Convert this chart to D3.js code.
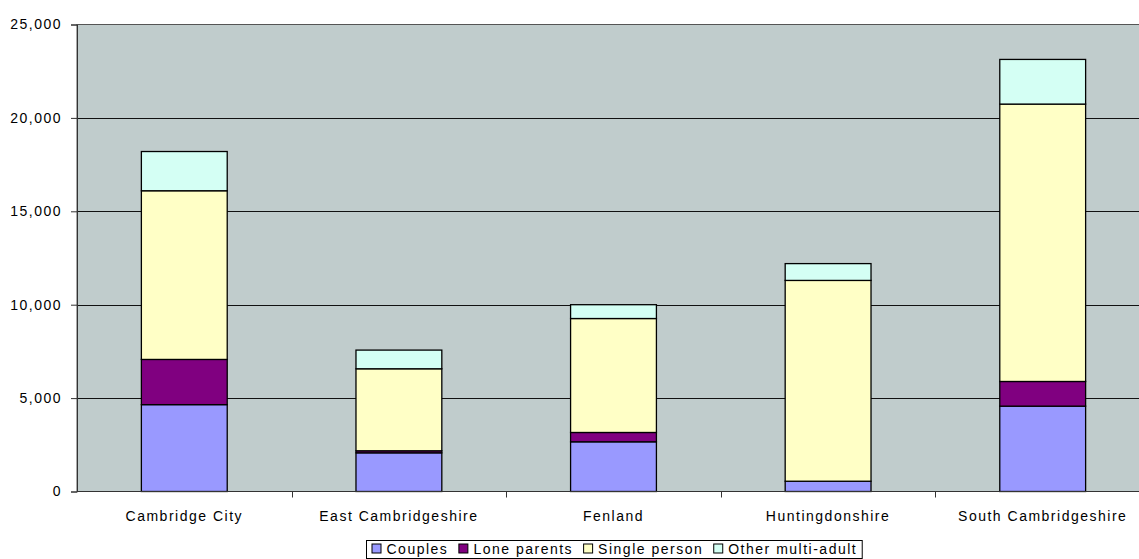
<!DOCTYPE html>
<html>
<head>
<meta charset="utf-8">
<script src="https://cdn.jsdelivr.net/npm/d3@7"></script>
<style>
  html, body { margin: 0; padding: 0; background: #fff; }
  svg { display: block; overflow: hidden; }
  text { font-family: "Liberation Sans", Arial, sans-serif; font-size: 14px; fill: #000; letter-spacing: 1.5px; }
</style>
</head>
<body>
<svg id="chart" width="1139" height="559"></svg>
<script>
// Households by type, per district
const categories = ["Cambridge City", "East Cambridgeshire", "Fenland", "Huntingdonshire", "South Cambridgeshire"];
const couples = [4650, 2070, 2660, 550, 4570];
const loneParents = [2420, 110, 500, 0, 1320];
const singlePerson = [9030, 4390, 6100, 10750, 14850];
const otherMultiAdult = [2100, 1000, 740, 900, 2390];
const seriesNames = ["Couples", "Lone parents", "Single person", "Other multi-adult"];
const yTicks = [0, 5000, 10000, 15000, 20000, 25000];

const colors = ["#9999FF", "#800080", "#FFFFC6", "#D4FFF4"];

const svg = d3.select("#chart");
const plot = { left: 77, right: 1150, top: 24.5, bottom: 491.5 };

const rows = categories.map((c, i) => ({
  cat: c,
  "Couples": couples[i],
  "Lone parents": loneParents[i],
  "Single person": singlePerson[i],
  "Other multi-adult": otherMultiAdult[i]
}));
const stacked = d3.stack().keys(seriesNames)(rows);

const x = d3.scaleBand().domain(categories).range([plot.left, plot.right]).paddingInner(0.6).paddingOuter(0.3);
const xOuter = d3.scaleBand().domain(categories).range([plot.left, plot.right]);
const y = d3.scaleLinear().domain([0, 25000]).range([plot.bottom, plot.top]);

// plot background
svg.append("rect")
  .attr("x", plot.left).attr("y", plot.top)
  .attr("width", plot.right - plot.left).attr("height", plot.bottom - plot.top)
  .attr("fill", "#C0CCCC").attr("stroke", "#555").attr("stroke-width", 1);

// horizontal gridlines
svg.append("g").selectAll("line")
  .data(yTicks.filter(t => t > 0 && t < 25000))
  .join("line")
  .attr("x1", plot.left).attr("x2", plot.right)
  .attr("y1", d => Math.round(y(d)) + 0.5).attr("y2", d => Math.round(y(d)) + 0.5)
  .attr("stroke", "#111").attr("stroke-width", 1);

// stacked bars
svg.append("g").selectAll("g")
  .data(stacked)
  .join("g")
  .attr("fill", (d, i) => colors[i])
  .selectAll("rect")
  .data(d => d.filter(s => s[1] - s[0] > 0))
  .join("rect")
  .attr("x", d => x(d.data.cat))
  .attr("width", x.bandwidth())
  .attr("y", d => y(d[1]))
  .attr("height", d => y(d[0]) - y(d[1]))
  .attr("stroke", "#000").attr("stroke-width", 1.3);

// y axis
const yAxis = svg.append("g")
  .attr("transform", `translate(${plot.left},0)`)
  .call(d3.axisLeft(y).tickValues(yTicks).tickFormat(d3.format(",")).tickSize(6).tickPadding(9));
yAxis.attr("font-size", null).attr("font-family", null);
yAxis.select(".domain").attr("stroke", "#333");
yAxis.selectAll(".tick line").attr("stroke", "#333");
yAxis.selectAll("text").attr("fill", "#000");

// x axis: category labels centered, ticks at band boundaries
const xAxisG = svg.append("g").attr("transform", `translate(0,${plot.bottom})`);
xAxisG.append("line")
  .attr("x1", plot.left).attr("x2", plot.right).attr("y1", 0).attr("y2", 0)
  .attr("stroke", "#333");
xAxisG.selectAll("line.tk")
  .data(categories.slice(1))
  .join("line").attr("class", "tk")
  .attr("x1", d => Math.round(xOuter(d)) + 0.5).attr("x2", d => Math.round(xOuter(d)) + 0.5)
  .attr("y1", 0).attr("y2", 6).attr("stroke", "#333");
xAxisG.selectAll("text")
  .data(categories)
  .join("text")
  .attr("x", d => xOuter(d) + xOuter.bandwidth() / 2)
  .attr("y", 29)
  .attr("text-anchor", "middle")
  .text(d => d);

// legend
const legend = svg.append("g");
const items = legend.selectAll("g").data(seriesNames).join("g");
let cursor = 0;
items.each(function (d, i) {
  const g = d3.select(this);
  g.append("rect").attr("x", 0.5).attr("y", -9.5).attr("width", 9).attr("height", 9)
    .attr("fill", colors[i]).attr("stroke", "#000").attr("stroke-width", 1);
  const t = g.append("text").attr("x", 15).attr("y", 0).text(d);
  const w = 15 + t.node().getComputedTextLength();
  g.attr("transform", `translate(${cursor},0)`);
  cursor += w + 10;
});
const legendWidth = cursor - 10 + 10;
legend.insert("rect", ":first-child")
  .attr("x", -5).attr("y", -13).attr("width", legendWidth).attr("height", 18)
  .attr("fill", "#fff").attr("stroke", "#000").attr("stroke-width", 1);
legend.attr("transform", `translate(371.5,553.5)`);
</script>
</body>
</html>
